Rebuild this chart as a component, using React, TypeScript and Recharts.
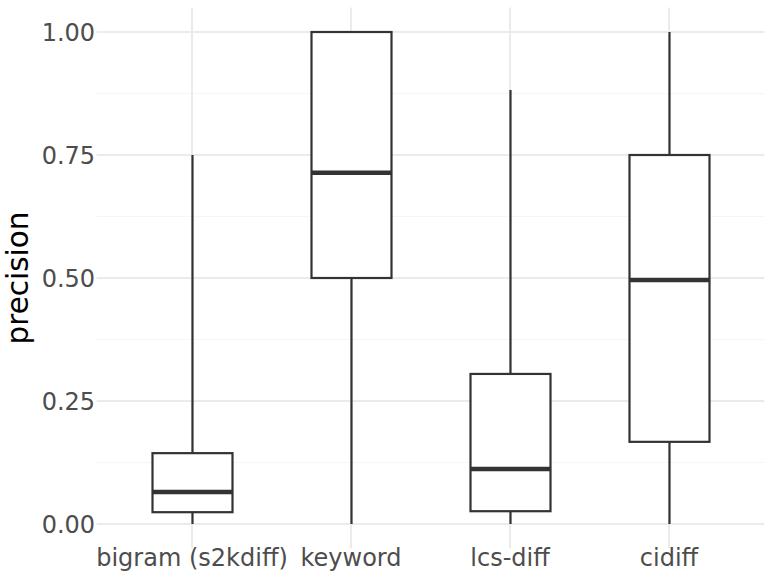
import { ComposedChart, Bar, XAxis, YAxis, CartesianGrid } from 'recharts';

// boxplot stats
const methods = ['bigram (s2kdiff)', 'keyword', 'lcs-diff', 'cidiff'];
const lowWhisker = [0, 0, 0, 0];
const q1 = [0.024, 0.5, 0.026, 0.167];
const median = [0.065, 0.714, 0.112, 0.496];
const q3 = [0.144, 1.0, 0.305, 0.75];
const highWhisker = [0.75, 1.0, 0.882, 1.0];

const yTicks = [0, 0.25, 0.5, 0.75, 1];
const yMinor = [0.125, 0.375, 0.625, 0.875];

const FONT = '"DejaVu Sans", sans-serif';
const INK = '#333333';

const data = methods.map((m, i) => ({
  method: m,
  min: lowWhisker[i],
  q1: q1[i],
  median: median[i],
  q3: q3[i],
  max: highWhisker[i],
}));

function BoxShape(props: any) {
  const { x, y, width, height, payload } = props;
  const { min, max } = payload;
  // bar spans [min, max] on the y scale; map the quartiles inside it
  const pix = (v: number) => y + (height * (max - v)) / (max - min);
  const cx = x + width / 2;
  const top = pix(payload.q3);
  const bottom = pix(payload.q1);
  return (
    <g>
      <line x1={cx} x2={cx} y1={pix(max)} y2={pix(min)} stroke={INK} strokeWidth={2.2} />
      <rect x={x} y={top} width={width} height={bottom - top} fill="#ffffff" stroke={INK} strokeWidth={2.2} />
      <line x1={x} x2={x + width} y1={pix(payload.median)} y2={pix(payload.median)} stroke={INK} strokeWidth={4.5} />
    </g>
  );
}

export default function App() {
  return (
    <div style={{ position: 'absolute', left: 0, top: 0, background: '#fff' }}>
      <ComposedChart
        width={773}
        height={580}
        data={data}
        margin={{ top: 7.4, right: 8.6, bottom: 0, left: 0 }}
        style={{ fontFamily: FONT }}
      >
        {/* minor grid first, then major */}
        <CartesianGrid stroke="#f6f6f6" strokeWidth={1} vertical={false} horizontalValues={yMinor} />
        <CartesianGrid stroke="#ebebeb" strokeWidth={2} horizontalValues={yTicks} verticalValues={methods} />
        <XAxis
          dataKey="method"
          height={31.4}
          padding={{ left: 15.9, right: 15.9 }}
          axisLine={false}
          tickLine={false}
          tickSize={0}
          tickMargin={0}
          interval={0}
          tick={{ fill: '#4d4d4d', fontSize: 24, fontFamily: FONT }}
        />
        <YAxis
          type="number"
          domain={[-0.05, 1.05]}
          ticks={yTicks}
          width={96.6}
          axisLine={false}
          tickLine={false}
          tickSize={0}
          tickMargin={1.5}
          tickFormatter={(v: number) => v.toFixed(2)}
          tick={{ fill: '#4d4d4d', fontSize: 24, fontFamily: FONT }}
          label={{
            content: (p: any) => {
              const vb = p.viewBox;
              const lx = vb.x + 18;
              const ly = vb.y + vb.height / 2;
              return (
                <text
                  x={lx}
                  y={ly}
                  transform={`rotate(-90 ${lx} ${ly})`}
                  textAnchor="middle"
                  dominantBaseline="central"
                  fontSize={29.5}
                  fontFamily={FONT}
                  fill="#000"
                >
                  precision
                </text>
              );
            },
          }}
        />
        <Bar
          dataKey={(d: any) => [d.min, d.max]}
          barSize={80}
          shape={BoxShape}
          isAnimationActive={false}
        />
      </ComposedChart>
    </div>
  );
}
